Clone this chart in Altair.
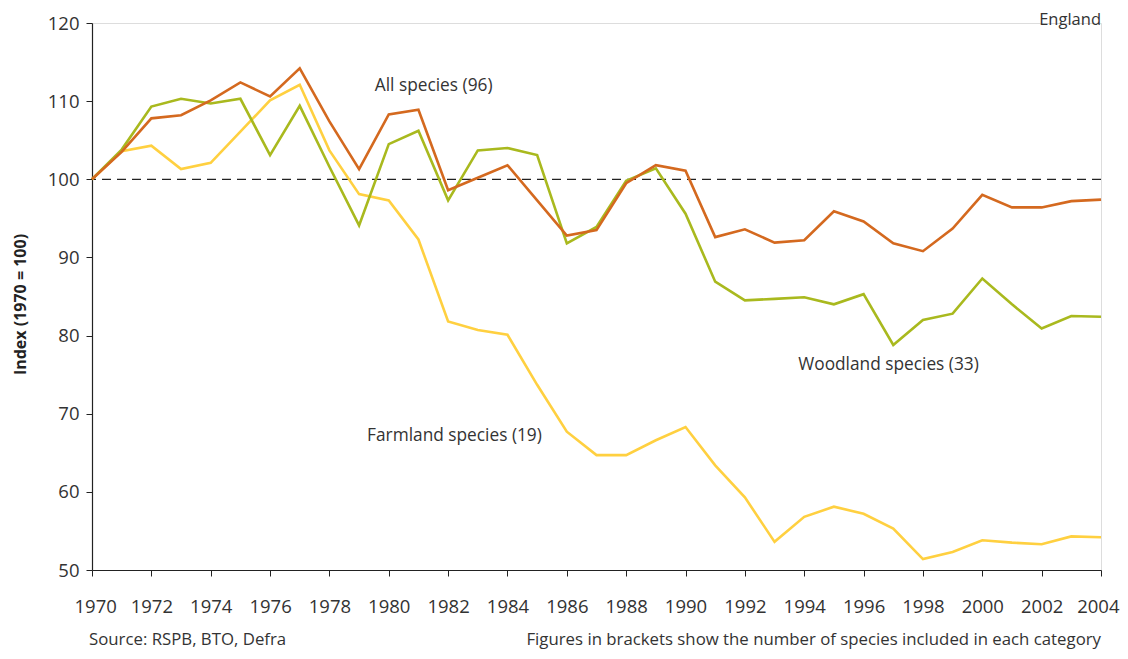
import altair as alt
import pandas as pd

years = list(range(1970, 2005))

all_species = [100, 103.5, 107.8, 108.2, 110.1, 112.4, 110.6, 114.2, 107.4, 101.3,
               108.3, 108.9, 98.6, 100.2, 101.8, 97.3, 92.8, 93.5, 99.5, 101.8,
               101.1, 92.6, 93.6, 91.9, 92.2, 95.9, 94.6, 91.8, 90.8, 93.7,
               98.0, 96.4, 96.4, 97.2, 97.4]

woodland = [100, 103.8, 109.3, 110.3, 109.7, 110.3, 103.1, 109.4, 101.6, 94.1,
            104.5, 106.2, 97.3, 103.7, 104.0, 103.1, 91.8, 93.9, 99.8, 101.4,
            95.6, 86.9, 84.5, 84.7, 84.9, 84.0, 85.3, 78.8, 82.0, 82.8,
            87.3, 84.0, 80.9, 82.5, 82.4]

farmland = [100, 103.6, 104.3, 101.3, 102.1, 106.1, 110.1, 112.1, 103.7, 98.1,
            97.3, 92.3, 81.8, 80.7, 80.1, 73.7, 67.7, 64.7, 64.7, 66.6,
            68.3, 63.4, 59.3, 53.6, 56.8, 58.1, 57.2, 55.3, 51.4, 52.3,
            53.8, 53.5, 53.3, 54.3, 54.2]

series_names = ["Farmland", "Woodland", "All species"]
series_colors = ["#FFD040", "#A9B91E", "#D4691F"]

label_texts = ["All species (96)", "Woodland species (33)", "Farmland species (19)"]
label_years = [1979.53, 1993.8, 1979.27]
label_values = [111.9, 76.2, 67.1]

y_ticks = [50, 60, 70, 80, 90, 100, 110, 120]

rows = []
for name, vals in zip(series_names, [farmland, woodland, all_species]):
    for yr, v in zip(years, vals):
        rows.append({"year": yr, "value": v, "series": name})
df = pd.DataFrame(rows)

FONT = "Open Sans"
TXT = "#333333"

xscale = alt.Scale(domain=[1970, 2004], nice=False, zero=False)
yscale = alt.Scale(domain=[50, 120], nice=False, zero=False)

lines = alt.Chart(df).mark_line(strokeWidth=2.6, strokeJoin="miter").encode(
    x=alt.X("year:Q", scale=xscale,
            axis=alt.Axis(values=years, labelExpr="datum.value % 2 == 0 ? datum.value : ''",
                          format="d", grid=False, tickSize=6, labelPadding=21,
                          labelFontSize=18.5, labelFont=FONT, labelColor=TXT,
                          domainColor="#222", tickColor="#222", domainWidth=1.2,
                          labelOverlap=False, labelFlush=True, labelFlushOffset=18,
                          title=None)),
    y=alt.Y("value:Q", scale=yscale,
            axis=alt.Axis(values=y_ticks, grid=False, tickSize=6, labelPadding=7,
                          labelFontSize=18.5, labelFont=FONT, labelColor=TXT,
                          domainColor="#222", tickColor="#222", domainWidth=1.2,
                          title="Index (1970 = 100)", titleFont=FONT, titleFontSize=16,
                          titleFontWeight="bold", titleColor="#222",
                          titleX=-72, titleY=281, titleAngle=-90,
                          titleAlign="center", titleBaseline="middle")),
    color=alt.Color("series:N", scale=alt.Scale(domain=series_names, range=series_colors),
                    legend=None),
    order=alt.Order("series:N"),
)

ref = alt.Chart(pd.DataFrame({"value": [100]})).mark_rule(
    color="#222", strokeDash=[9, 6], strokeWidth=1.3
).encode(y=alt.Y("value:Q", scale=yscale))

labels_df = pd.DataFrame({"text": label_texts, "year": label_years, "value": label_values})
labels = alt.Chart(labels_df).mark_text(
    align="left", baseline="middle", fontSize=17.3, font=FONT, color=TXT
).encode(x=alt.X("year:Q", scale=xscale), y=alt.Y("value:Q", scale=yscale), text="text:N")

england = alt.Chart(pd.DataFrame({"t": ["England"]})).mark_text(
    align="right", baseline="middle", fontSize=16.5, font=FONT, color=TXT
).encode(x=alt.value(1009), y=alt.value(-3), text="t:N")

source = alt.Chart(pd.DataFrame({"t": ["Source: RSPB, BTO, Defra"]})).mark_text(
    align="left", baseline="middle", fontSize=16.8, font=FONT, color=TXT
).encode(x=alt.value(-3), y=alt.value(617), text="t:N")

note = alt.Chart(pd.DataFrame({"t": ["Figures in brackets show the number of species included in each category"]})).mark_text(
    align="right", baseline="middle", fontSize=16.8, font=FONT, color=TXT
).encode(x=alt.value(1009), y=alt.value(617), text="t:N")

chart = alt.layer(ref, lines, labels, england, source, note).properties(
    width=1009, height=547,
    autosize=alt.AutoSizeParams(type="none"),
    padding={"left": 84, "top": 15, "right": 19, "bottom": 81},
).configure_view(stroke=None).configure(background="white")

chart.save("out.html", embed_options={"renderer": "svg", "actions": False})
